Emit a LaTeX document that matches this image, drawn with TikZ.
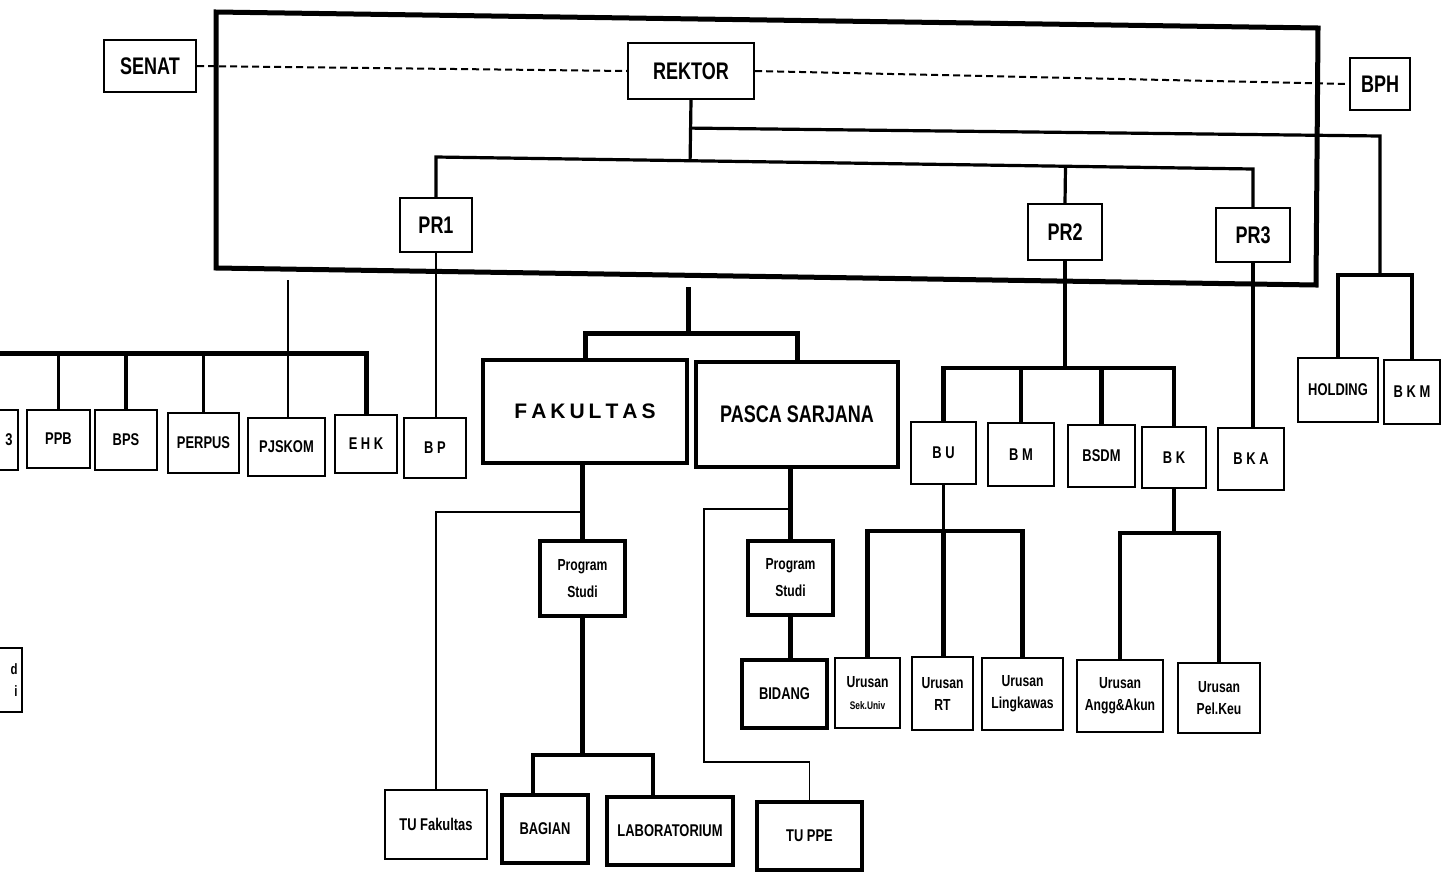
\documentclass[tikz,border=0pt]{standalone}
\usepackage{fontspec}
\setmainfont{Liberation Sans}
\newfontfamily\hfont[FakeStretch=0.75]{Liberation Sans}
\newfontfamily\nfont[FakeStretch=0.76]{Liberation Sans}
\usetikzlibrary{calc}
\tikzset{
  sz/.style 2 args={minimum width=#1pt,minimum height=#2pt},
  bx/.style={draw, line width=2.2pt, fill=white, inner sep=0pt, align=center,
             font=\nfont\bfseries\fontsize{17}{19}\selectfont},
  hbx/.style={bx, line width=3.2pt},
  hd/.style={bx, font=\hfont\bfseries\fontsize{24}{26}\selectfont},
  lbl/.style={inner sep=0pt, font=\nfont\bfseries\fontsize{17}{19}\selectfont},
  frame/.style={line width=5pt, line join=miter},
  dsh/.style={line width=2pt, dash pattern=on 7pt off 4pt},
  lw1/.style={line width=1.6pt},
  lw2/.style={line width=2.4pt},
  lw3/.style={line width=3.2pt},
  lw4/.style={line width=4.2pt},
  lw5/.style={line width=5pt},
}
\begin{document}
\begin{tikzpicture}[x=1pt,y=-1pt]
\useasboundingbox (0,0) rectangle (1445,876);
\clip (0,0) rectangle (1445,876);
\fill[white] (0,0) rectangle (1445,876);

% big frame (scanned, slightly skewed)
\draw[frame] (216,12) -- (1318,28) -- (1316,285) -- (216,268) -- cycle;

% top level
\node[hd, sz={92}{52}] (senat) at (150,66) {SENAT};
\node[hd, sz={126}{56}] (rektor) at (691,71) {REKTOR};
\node[hd, sz={60}{52}] (bph) at (1380,84) {BPH};
\node[hd, sz={72}{54}] (pr1) at (436,225) {PR1};
\node[hd, sz={74}{56}] (pr2) at (1065,232) {PR2};
\node[hd, sz={74}{54}] (pr3) at (1253,235) {PR3};

% left row
\node[bx, sz={78}{60}] (cut1) at (-21,440) {};
\node[lbl] (cut1t) at (9,440) {3};
\node[bx, sz={63}{58}] (ppb) at (58.5,439) {PPB};
\node[bx, sz={62}{60}] (bps) at (126,440) {BPS};
\node[bx, sz={71}{60}] (perpus) at (203.5,443) {PERPUS};
\node[bx, sz={77}{58}] (pjskom) at (286.5,447) {PJSKOM};
\node[bx, sz={62}{58}] (ehk) at (366,444) {E H K};
\node[bx, sz={62}{60}] (bp) at (435,448) {B P};
\node[bx, sz={82}{64}] (cut2) at (-19,680) {};
\node[lbl, align=right, font=\nfont\bfseries\fontsize{15}{22}\selectfont] (cut2t) at (14,680) {d\\i};

% fakultas / pasca
\node[hbx, sz={204}{103}, font=\bfseries\fontsize{21}{24}\selectfont] (fak) at (585,411.5)
  {F\kern4pt A\kern4pt K\kern4pt U\kern4pt L\kern4pt T\kern4pt A\kern4pt S};
\node[hbx, sz={202}{105}, font=\hfont\bfseries\fontsize{24}{26}\selectfont] (pasca) at (797,414.5) {PASCA SARJANA};
\node[hbx, sz={85}{75}, font=\nfont\bfseries\fontsize{16}{27}\selectfont] (ps1) at (582.5,578.5) {Program\\Studi};
\node[hbx, sz={85}{74}, font=\nfont\bfseries\fontsize{16}{27}\selectfont] (ps2) at (790.5,578) {Program\\Studi};
\node[hbx, sz={85}{68}] (bidang) at (784.5,694) {BIDANG};
\node[bx, sz={102}{69}, line width=2.6pt] (tuf) at (436,824.5) {TU Fakultas};
\node[hbx, sz={86}{68}] (bagian) at (545,829) {BAGIAN};
\node[hbx, sz={126}{68}] (lab) at (670,831) {LABORATORIUM};
\node[hbx, sz={105}{68}] (tuppe) at (809.5,836) {TU PPE};

% PR2 / PR3 units
\node[bx, sz={65}{62}] (bu) at (943.5,453) {B U};
\node[bx, sz={66}{63}] (bm) at (1021,454.5) {B M};
\node[bx, sz={67}{62}] (bsdm) at (1101.5,456) {BSDM};
\node[bx, sz={64}{61}] (bk) at (1174,457.5) {B K};
\node[bx, sz={66}{62}] (bka) at (1251,459) {B K A};
\node[bx, sz={80}{64}] (holding) at (1338,390) {HOLDING};
\node[bx, sz={56}{64}] (bkm) at (1412,392) {B K M};

% urusan
\node[bx, sz={65}{70}, font=\nfont\bfseries\fontsize{16}{22}\selectfont] (us1) at (867.5,693)
  {Urusan\\{\fontsize{11}{13}\selectfont Sek.Univ}};
\node[bx, sz={61}{73}, font=\nfont\bfseries\fontsize{16}{22}\selectfont] (us2) at (942.5,693.5) {Urusan\\RT};
\node[bx, sz={81}{72}, font=\nfont\bfseries\fontsize{16}{22}\selectfont] (us3) at (1022.5,694) {Urusan\\Lingkawas};
\node[bx, sz={86}{72}, font=\nfont\bfseries\fontsize{16}{22}\selectfont] (us4) at (1120,696) {Urusan\\Angg\&Akun};
\node[bx, sz={82}{70}, font=\nfont\bfseries\fontsize{16}{22}\selectfont] (us5) at (1219,698) {Urusan\\Pel.Keu};

% ---- connectors ----
\draw[dsh] (senat.east) -- (rektor.west);
\draw[dsh] (rektor.east) -- (bph.west);

\coordinate (b1) at (pr1.north |- 0,157);
\coordinate (b3) at (pr3.north |- 0,169);
\draw[lw3] (rektor.south) -- ($(b1)!(rektor.south)!(b3)$);
\draw[lw3] (pr1.north) -- (b1) -- (b3) -- (pr3.north);
\draw[lw3] (pr2.north) -- ($(b1)!(pr2.north)!(b3)$);

\coordinate (rj) at ($(rektor.south)+(0,28)$);
\coordinate (rc) at (1380,136);
\coordinate (hb) at (1380,275);
\draw[lw3] (rj) -- (rc) -- (hb);
\draw[lw3] (holding.north) |- (hb) -| (bkm.north);

\draw[lw2] (pr1.south) -- (pr1.south |- bp.north);

\coordinate (pjtop) at (288,280);
\draw[lw2] (pjtop) -- (pjtop |- pjskom.north);
\coordinate (lb0) at (-5,353);
\draw[lw5] (lb0) -- (ehk.north |- lb0) -- (ehk.north);
\draw[lw3] (ppb.north) -- (ppb.north |- lb0);
\draw[lw3] (bps.north) -- (bps.north |- lb0);
\draw[lw3] (perpus.north) -- (perpus.north |- lb0);

\coordinate (ctop) at (688,287);
\coordinate (cbus) at (688,333);
\draw[lw5] (ctop) -- (cbus);
\draw[lw5] (fak.north) |- (cbus) -| (pasca.north);

\draw[lw4] (ps1.north |- fak.south) -- (ps1.north);
\draw[lw1] (ps1.north |- 0,512) -| (tuf.north);
\coordinate (fb) at (ps1.south |- 0,755);
\draw[lw4] (ps1.south) -- (fb);
\draw[lw3] (bagian.north -| 533,0) |- (fb) -| (lab.north -| 653,0);

\draw[lw4] (ps2.north |- pasca.south) -- (ps2.north);
\draw[lw1] (ps2.north |- 0,509) -| (704,762) -| (tuppe.north);
\draw[lw4] (ps2.south) -- (ps2.south |- bidang.north);

\coordinate (r2) at (pr2.south |- 0,368);
\draw[lw3] (pr2.south) -- (r2);
\draw[lw4] (bu.north) |- (r2) -| (bk.north);
\draw[lw4] (bm.north) -- (bm.north |- r2);
\draw[lw4] (bsdm.north) -- (bsdm.north |- r2);
\draw[lw3] (pr3.south) -- (pr3.south |- bka.north);

\coordinate (ub) at (bu.south |- 0,531);
\draw[lw3] (bu.south) -- (ub);
\draw[lw4] (us1.north) |- (ub) -| (us3.north);
\draw[lw4] (ub) -- (ub |- us2.north);

\coordinate (kb) at (bk.south |- 0,533);
\draw[lw3] (bk.south) -- (kb);
\draw[lw4] (us4.north) |- (kb) -| (us5.north);
\end{tikzpicture}
\end{document}
